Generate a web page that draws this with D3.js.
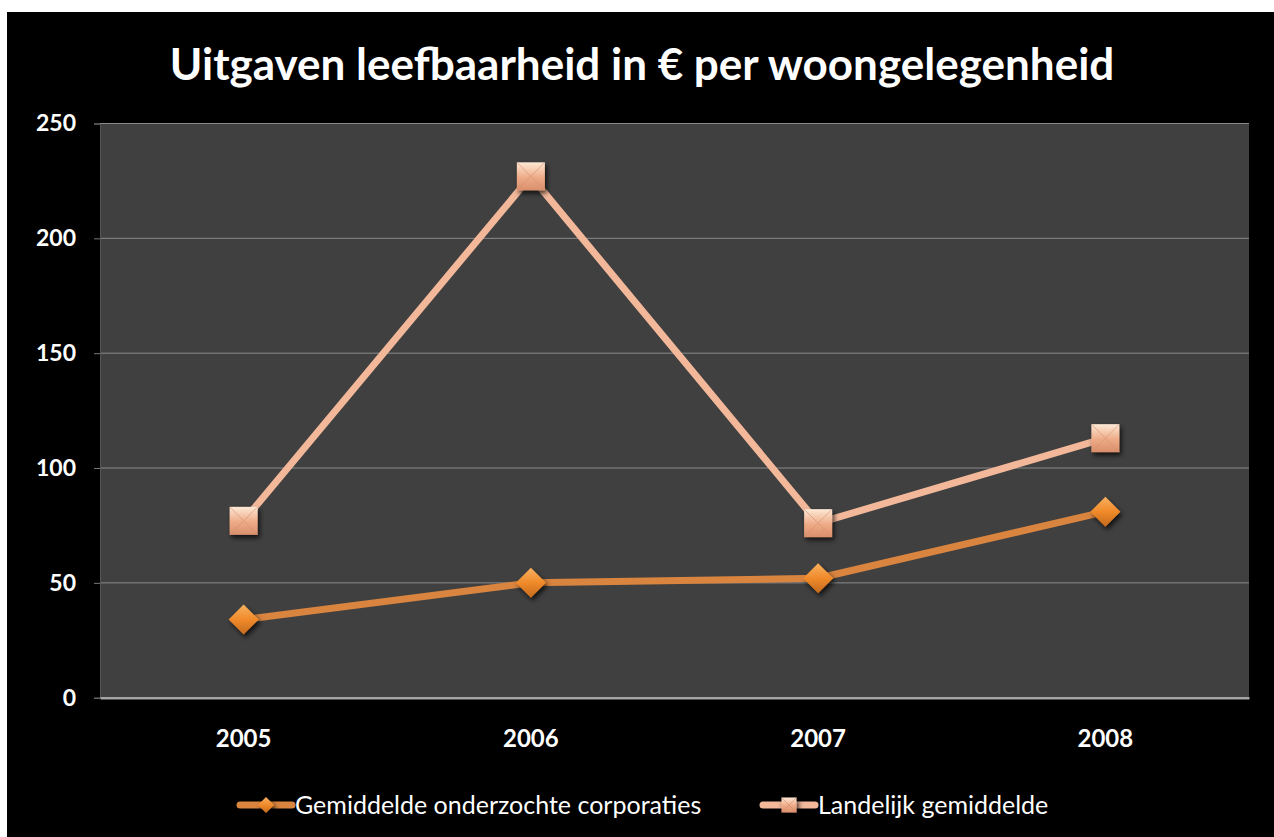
<!DOCTYPE html>
<html>
<head>
<meta charset="utf-8">
<script src="https://cdn.jsdelivr.net/npm/d3@7"></script>
<style>
  html, body { margin: 0; padding: 0; background: #fff; }
  svg { display: block; }
</style>
</head>
<body>
<svg id="chart" width="1274" height="837"></svg>
<script>
// Chart data
const years = ["2005", "2006", "2007", "2008"];
const gemiddeldeCorporaties = [34, 50, 52, 81];
const landelijkGemiddelde = [77, 227, 76, 113];
const yTicks = [0, 50, 100, 150, 200, 250];
const seriesNames = ["Gemiddelde onderzochte corporaties", "Landelijk gemiddelde"];
const titleText = "Uitgaven leefbaarheid in € per woongelegenheid";

const W = 1274, H = 837;
const plot = { left: 100, right: 1249, top: 123.5, bottom: 697.7 };
const font = "Lato, 'Open Sans', sans-serif";

const svg = d3.select("#chart");
const defs = svg.append("defs");

// drop shadow for markers
const shadow = defs.append("filter").attr("id", "shadow")
  .attr("x", "-50%").attr("y", "-50%").attr("width", "200%").attr("height", "200%");
shadow.append("feDropShadow").attr("dx", 2).attr("dy", 3).attr("stdDeviation", 2.5)
  .attr("flood-color", "#000").attr("flood-opacity", 0.75);

// gradients for the bevelled markers
const gSq = defs.append("linearGradient").attr("id", "sqGrad")
  .attr("x1", "0").attr("y1", "0").attr("x2", "0").attr("y2", "1");
gSq.append("stop").attr("offset", "0%").attr("stop-color", "#fde9d6");
gSq.append("stop").attr("offset", "55%").attr("stop-color", "#eeaa86");
gSq.append("stop").attr("offset", "100%").attr("stop-color", "#d98f6c");

const gDi = defs.append("linearGradient").attr("id", "diGrad")
  .attr("x1", "0").attr("y1", "0").attr("x2", "0").attr("y2", "1");
gDi.append("stop").attr("offset", "0%").attr("stop-color", "#f7b060");
gDi.append("stop").attr("offset", "50%").attr("stop-color", "#f08a2a");
gDi.append("stop").attr("offset", "100%").attr("stop-color", "#c36a1e");

// background: white margin, black chart area
svg.append("rect").attr("width", W).attr("height", H).attr("fill", "#fff");
svg.append("rect").attr("x", 7).attr("y", 12).attr("width", W - 7).attr("height", H - 12).attr("fill", "#000");

// scales
const x = d3.scaleBand().domain(years).range([plot.left, plot.right]).padding(0);
const y = d3.scaleLinear().domain([0, 250]).range([plot.bottom, plot.top]);
const cx = d => x(d) + x.bandwidth() / 2;

// plot area
svg.append("rect").attr("x", plot.left).attr("y", plot.top)
  .attr("width", plot.right - plot.left).attr("height", plot.bottom - plot.top)
  .attr("fill", "#404040");

// gridlines
svg.append("g").selectAll("line").data(yTicks.filter(t => t > 0)).join("line")
  .attr("x1", plot.left).attr("x2", plot.right)
  .attr("y1", d => y(d)).attr("y2", d => y(d))
  .attr("stroke", "#8a8a8a").attr("stroke-width", 1);

// y axis
const yAxis = svg.append("g").attr("transform", `translate(${plot.left},0)`)
  .call(d3.axisLeft(y).tickValues(yTicks).tickSize(6).tickPadding(18));
yAxis.select(".domain").attr("stroke", "#555").attr("stroke-width", 1);
yAxis.selectAll(".tick line").attr("stroke", "#777");
yAxis.selectAll("text").attr("fill", "#fff").attr("font-family", font)
  .attr("font-weight", "bold").attr("font-size", 23);

// x axis
const xAxis = svg.append("g").attr("transform", `translate(0,${plot.bottom})`)
  .call(d3.axisBottom(x).tickSize(0).tickPadding(32));
xAxis.select(".domain").attr("stroke", "#a6a6a6").attr("stroke-width", 2.5);
xAxis.selectAll("text").attr("fill", "#fff").attr("font-family", font)
  .attr("font-weight", "bold").attr("font-size", 24);

// lines
const line = d3.line().x((d, i) => cx(years[i])).y(d => y(d));
svg.append("path").datum(gemiddeldeCorporaties).attr("d", line)
  .attr("fill", "none").attr("stroke", "#d9843f").attr("stroke-width", 7)
  .attr("stroke-linejoin", "round");
svg.append("path").datum(landelijkGemiddelde).attr("d", line)
  .attr("fill", "none").attr("stroke", "#f3b89a").attr("stroke-width", 7)
  .attr("stroke-linejoin", "round");

// marker drawers
function square(g, px, py, s) {
  g.append("rect").attr("x", px - s / 2).attr("y", py - s / 2).attr("width", s).attr("height", s)
    .attr("fill", "url(#sqGrad)").attr("filter", "url(#shadow)");
  // bevel diagonals
  g.append("path")
    .attr("d", `M${px - s / 2},${py - s / 2}L${px + s / 2},${py + s / 2}M${px + s / 2},${py - s / 2}L${px - s / 2},${py + s / 2}`)
    .attr("stroke", "#d48e6e").attr("stroke-width", 1).attr("opacity", 0.6);
}
function diamond(g, px, py, s) {
  const r = s / 2;
  g.append("path").attr("d", `M${px},${py - r}L${px + r},${py}L${px},${py + r}L${px - r},${py}Z`)
    .attr("fill", "url(#diGrad)").attr("filter", "url(#shadow)");
}

const markG = svg.append("g");
gemiddeldeCorporaties.forEach((v, i) => diamond(markG, cx(years[i]), y(v), 30));
landelijkGemiddelde.forEach((v, i) => square(markG, cx(years[i]), y(v), 28));

// title
svg.append("text").attr("x", 642).attr("y", 80).attr("text-anchor", "middle")
  .attr("fill", "#fff").attr("font-family", font).attr("font-weight", "bold")
  .attr("font-size", 44).text(titleText);

// legend
const legY = 805;
const leg = svg.append("g");
const legItems = [
  { x: 240, color: "#d9843f", name: seriesNames[0], mark: "diamond" },
  { x: 763, color: "#f3b89a", name: seriesNames[1], mark: "square" }
];
legItems.forEach(it => {
  leg.append("line").attr("x1", it.x).attr("x2", it.x + 52).attr("y1", legY).attr("y2", legY)
    .attr("stroke", it.color).attr("stroke-width", 7).attr("stroke-linecap", "round");
  if (it.mark === "diamond") diamond(leg, it.x + 26, legY, 16);
  else square(leg, it.x + 26, legY, 15);
  leg.append("text").attr("x", it.x + 55).attr("y", legY + 9)
    .attr("fill", "#fff").attr("font-family", font).attr("font-size", 25).text(it.name);
});
</script>
</body>
</html>
